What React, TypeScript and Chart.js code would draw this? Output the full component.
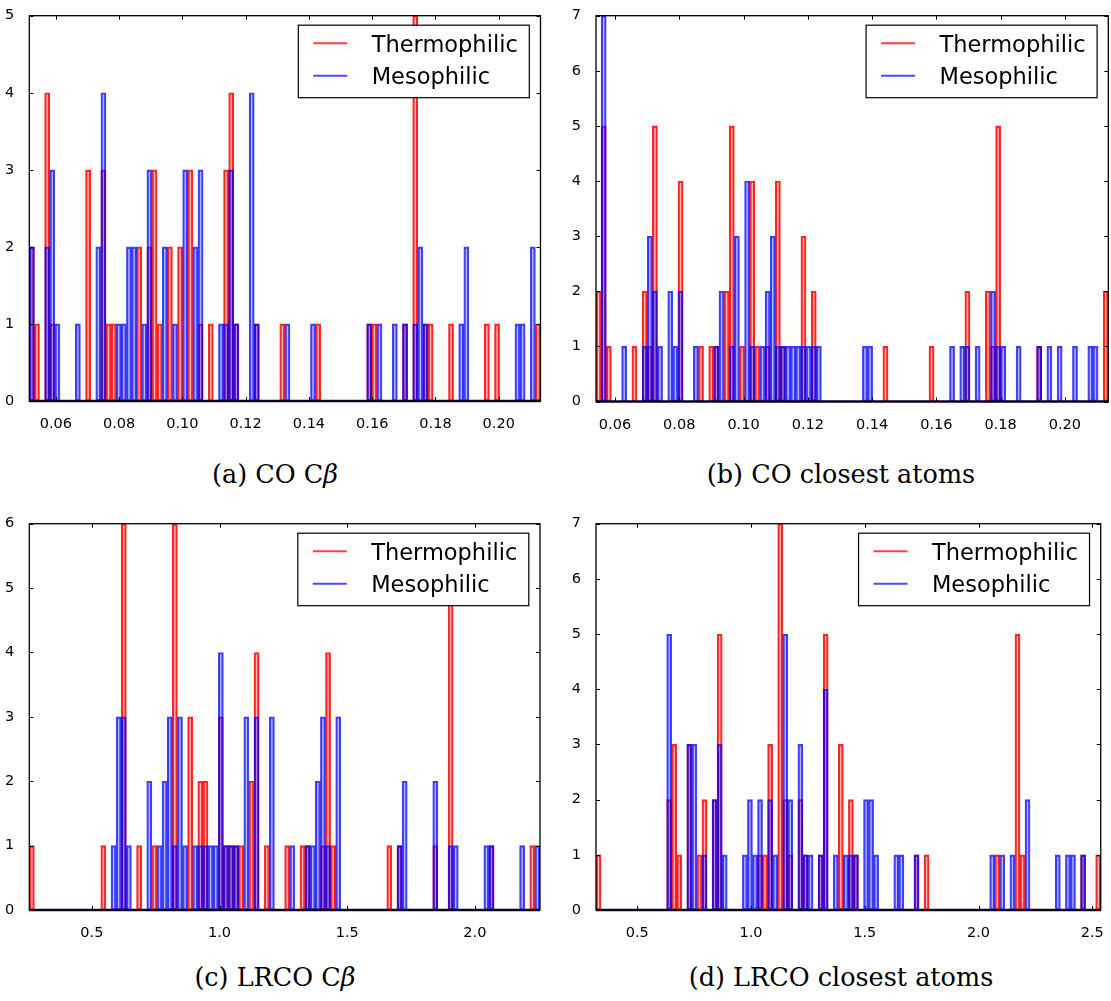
import React, { useEffect, useRef } from 'react';
import { Chart, registerables } from 'chart.js';

Chart.register(...registerables);

const seriesLabels = ['Thermophilic', 'Mesophilic'];

// (a) CO Cβ — 100 bins over the x range
const aRange = [0.0516, 0.2132];
const aXTicks = [0.06, 0.08, 0.1, 0.12, 0.14, 0.16, 0.18, 0.2];
const aThermo = [
  2, 1, 0, 4, 1, 0, 0, 0, 0, 0,
  0, 3, 0, 0, 3, 1, 1, 0, 0, 0,
  0, 2, 0, 2, 3, 1, 0, 2, 0, 2,
  0, 3, 0, 1, 0, 1, 0, 0, 3, 4,
  1, 0, 0, 0, 1, 0, 0, 0, 0, 1,
  0, 0, 0, 0, 0, 0, 1, 0, 0, 0,
  0, 0, 0, 0, 0, 0, 1, 1, 0, 0,
  0, 0, 0, 1, 0, 5, 0, 1, 1, 0,
  0, 0, 1, 0, 0, 0, 0, 0, 0, 1,
  0, 1, 0, 0, 0, 0, 0, 0, 0, 1,
];
const aMeso = [
  2, 0, 0, 2, 3, 1, 0, 0, 0, 1,
  0, 0, 0, 2, 4, 0, 0, 1, 1, 2,
  2, 0, 1, 3, 0, 0, 2, 0, 1, 0,
  3, 0, 2, 3, 0, 0, 0, 1, 1, 3,
  1, 0, 0, 4, 1, 0, 0, 0, 0, 0,
  1, 0, 0, 0, 0, 1, 0, 0, 0, 0,
  0, 0, 0, 0, 0, 0, 1, 0, 1, 0,
  0, 1, 0, 1, 0, 1, 2, 1, 0, 0,
  0, 0, 0, 0, 1, 2, 0, 0, 0, 0,
  0, 0, 0, 0, 0, 1, 1, 0, 2, 0,
];

// (b) CO closest atoms
const bRange = [0.0541, 0.2135];
const bXTicks = [0.06, 0.08, 0.1, 0.12, 0.14, 0.16, 0.18, 0.2];
const bThermo = [
  2, 5, 1, 0, 0, 0, 0, 1, 0, 2,
  1, 5, 0, 0, 0, 0, 4, 0, 0, 0,
  1, 0, 1, 1, 0, 2, 5, 0, 1, 0,
  4, 1, 0, 1, 0, 4, 1, 0, 0, 0,
  3, 0, 2, 0, 0, 0, 0, 0, 0, 0,
  0, 0, 0, 0, 0, 0, 1, 0, 0, 0,
  0, 0, 0, 0, 0, 1, 0, 0, 0, 0,
  0, 0, 2, 0, 0, 0, 2, 1, 5, 0,
  0, 0, 0, 0, 0, 0, 1, 0, 0, 0,
  0, 0, 0, 0, 0, 0, 0, 0, 0, 2,
];
const bMeso = [
  0, 7, 0, 0, 0, 1, 0, 0, 0, 1,
  3, 2, 1, 0, 2, 1, 2, 0, 0, 1,
  0, 0, 0, 1, 2, 0, 1, 3, 0, 4,
  1, 0, 1, 2, 3, 1, 1, 1, 1, 1,
  1, 1, 1, 1, 0, 0, 0, 0, 0, 0,
  0, 0, 1, 1, 0, 0, 0, 0, 0, 0,
  0, 0, 0, 0, 0, 0, 0, 0, 0, 1,
  0, 1, 1, 0, 1, 0, 0, 2, 1, 1,
  0, 0, 1, 0, 0, 0, 1, 0, 1, 0,
  1, 0, 0, 1, 0, 0, 1, 1, 0, 0,
];

// (c) LRCO Cβ
const cRange = [0.255, 2.255];
const cXTicks = [0.5, 1.0, 1.5, 2.0];
const cThermo = [
  1, 0, 0, 0, 0, 0, 0, 0, 0, 0,
  0, 0, 0, 0, 1, 0, 0, 0, 6, 0,
  0, 1, 0, 0, 1, 0, 0, 0, 6, 0,
  0, 3, 0, 2, 2, 0, 0, 3, 1, 1,
  1, 1, 0, 2, 4, 0, 1, 0, 0, 0,
  1, 0, 0, 1, 1, 0, 0, 1, 4, 1,
  0, 0, 0, 0, 0, 0, 0, 0, 0, 0,
  1, 0, 1, 0, 0, 0, 0, 0, 0, 1,
  0, 0, 5, 0, 0, 0, 0, 0, 0, 0,
  1, 0, 0, 0, 0, 0, 0, 0, 1, 0,
];
const cMeso = [
  0, 0, 0, 0, 0, 0, 0, 0, 0, 0,
  0, 0, 0, 0, 0, 0, 1, 3, 3, 1,
  0, 0, 0, 2, 0, 1, 2, 3, 1, 3,
  1, 0, 1, 1, 1, 1, 1, 4, 1, 1,
  1, 0, 3, 0, 3, 0, 0, 3, 0, 0,
  0, 1, 0, 0, 1, 1, 2, 3, 1, 0,
  3, 0, 0, 0, 0, 0, 0, 0, 0, 0,
  0, 0, 1, 2, 0, 0, 0, 0, 0, 2,
  0, 0, 1, 1, 0, 0, 0, 0, 0, 1,
  1, 0, 0, 0, 0, 0, 1, 0, 0, 1,
];

// (d) LRCO closest atoms
const dRange = [0.319, 2.537];
const dXTicks = [0.5, 1.0, 1.5, 2.0, 2.5];
const dThermo = [
  1, 0, 0, 0, 0, 0, 0, 0, 0, 0,
  0, 0, 0, 0, 2, 3, 1, 0, 3, 0,
  1, 2, 0, 2, 5, 0, 0, 0, 0, 0,
  0, 0, 1, 1, 3, 0, 7, 2, 1, 0,
  2, 1, 0, 0, 1, 5, 0, 0, 3, 0,
  2, 1, 0, 0, 0, 0, 0, 0, 0, 0,
  0, 0, 0, 1, 0, 1, 0, 0, 0, 0,
  0, 0, 0, 0, 0, 0, 0, 0, 0, 1,
  0, 0, 0, 5, 1, 0, 0, 0, 0, 0,
  0, 0, 0, 0, 0, 0, 1, 0, 0, 1,
];
const dMeso = [
  0, 0, 0, 0, 0, 0, 0, 0, 0, 0,
  0, 0, 0, 0, 5, 0, 0, 0, 3, 3,
  0, 1, 0, 2, 3, 1, 0, 0, 0, 1,
  2, 1, 2, 0, 2, 1, 0, 5, 2, 0,
  3, 1, 1, 0, 1, 4, 0, 1, 0, 1,
  1, 1, 0, 2, 2, 1, 0, 0, 0, 1,
  1, 0, 0, 1, 0, 0, 0, 0, 0, 0,
  0, 0, 0, 0, 0, 0, 0, 0, 1, 0,
  1, 0, 1, 0, 0, 2, 0, 0, 0, 0,
  0, 1, 0, 1, 1, 0, 1, 0, 0, 0,
];

const yMaxes = [5, 7, 6, 7];
const xDecimals = [2, 2, 1, 1];

const RED_EDGE = 'rgba(255,0,0,0.85)';
const RED_FILL = 'rgba(255,0,0,0.28)';
const BLUE_EDGE = 'rgba(0,0,255,0.75)';
const BLUE_FILL = 'rgba(0,0,255,0.28)';
const LEG_COLORS = ['rgba(255,0,0,0.75)', 'rgba(0,0,255,0.7)'];

const TICK_FONT = { family: '"DejaVu Sans"', size: 14.5 };

const decorPlugin = {
  id: 'decor',
  afterDatasetsDraw(chart: any) {
    const { ctx, chartArea: a } = chart;
    const xs = chart.scales.x;
    const ys = chart.scales.y;
    ctx.save();
    // zero baseline (outlines of empty bins)
    const y0 = ys.getPixelForValue(0);
    ctx.strokeStyle = '#1d0d3a';
    ctx.lineWidth = 2.4;
    ctx.beginPath();
    ctx.moveTo(a.left, y0);
    ctx.lineTo(a.right, y0);
    ctx.stroke();
    // frame
    ctx.strokeStyle = '#000';
    ctx.lineWidth = 1.3;
    ctx.strokeRect(a.left, a.top, a.right - a.left, a.bottom - a.top);
    // inward ticks on all sides
    const L = 4;
    ctx.lineWidth = 1;
    ctx.beginPath();
    xs.ticks.forEach((t: any) => {
      const px = Math.round(xs.getPixelForValue(t.value)) + 0.5;
      ctx.moveTo(px, a.bottom);
      ctx.lineTo(px, a.bottom - L);
      ctx.moveTo(px, a.top);
      ctx.lineTo(px, a.top + L);
    });
    ys.ticks.forEach((t: any) => {
      const py = Math.round(ys.getPixelForValue(t.value)) + 0.5;
      ctx.moveTo(a.left, py);
      ctx.lineTo(a.left + L, py);
      ctx.moveTo(a.right, py);
      ctx.lineTo(a.right - L, py);
    });
    ctx.stroke();
    // legend box
    const bw = 231;
    const bh = 72.5;
    const bx = a.right - 11.2 - bw;
    const by = a.top + 9.5;
    ctx.fillStyle = '#fff';
    ctx.fillRect(bx, by, bw, bh);
    ctx.strokeStyle = '#000';
    ctx.lineWidth = 1.2;
    ctx.strokeRect(bx, by, bw, bh);
    ctx.font = '22.5px "DejaVu Sans"';
    ctx.textBaseline = 'alphabetic';
    ctx.textAlign = 'left';
    chart.data.datasets.forEach((ds: any, i: number) => {
      const ly = by + 18 + i * 32.5;
      ctx.strokeStyle = LEG_COLORS[i];
      ctx.lineWidth = 2;
      ctx.beginPath();
      ctx.moveTo(bx + 15, ly);
      ctx.lineTo(bx + 49, ly);
      ctx.stroke();
      ctx.fillStyle = '#000';
      ctx.fillText(ds.label, bx + 73.4, ly + 8.3);
    });
    ctx.restore();
  },
};

type PanelCfg = {
  range: number[];
  xTicks: number[];
  thermo: number[];
  meso: number[];
  yMax: number;
  decimals: number;
  left: number;
  top: number;
  width: number;
  height: number;
  axisLeft: number;
  padTop: number;
  padRight: number;
  padBottom: number;
};

function Panel({ cfg }: { cfg: PanelCfg }) {
  const ref = useRef<HTMLCanvasElement>(null);
  useEffect(() => {
    if (!ref.current) return;
    const [lo, hi] = cfg.range;
    const n = cfg.thermo.length;
    const w = (hi - lo) / n;
    const toPts = (arr: number[]) => arr.map((y, i) => ({ x: lo + (i + 0.5) * w, y }));
    const common = {
      borderWidth: 1.5,
      borderSkipped: false,
      grouped: false,
      barPercentage: 1,
      categoryPercentage: 1,
    };
    const chart = new Chart(ref.current, {
      type: 'bar',
      data: {
        datasets: [
          {
            label: seriesLabels[0],
            data: toPts(cfg.thermo),
            backgroundColor: RED_FILL,
            borderColor: RED_EDGE,
            order: 2,
            ...common,
          } as any,
          {
            label: seriesLabels[1],
            data: toPts(cfg.meso),
            backgroundColor: BLUE_FILL,
            borderColor: BLUE_EDGE,
            order: 1,
            ...common,
          } as any,
        ],
      },
      options: {
        animation: false,
        responsive: false,
        maintainAspectRatio: false,
        layout: { padding: { left: 0, top: cfg.padTop, right: cfg.padRight, bottom: cfg.padBottom } },
        plugins: { legend: { display: false }, tooltip: { enabled: false } },
        scales: {
          x: {
            type: 'linear',
            min: lo,
            max: hi,
            offset: false,
            grid: { display: false },
            border: { display: false },
            afterBuildTicks: (s: any) => {
              s.ticks = cfg.xTicks.map((v) => ({ value: v }));
            },
            ticks: {
              autoSkip: false,
              maxRotation: 0,
              padding: 7,
              color: '#000',
              font: TICK_FONT,
              callback: (v: any) => Number(v).toFixed(cfg.decimals),
            },
            afterFit: (s: any) => {
              s.height = 30;
            },
          },
          y: {
            type: 'linear',
            min: 0,
            max: cfg.yMax,
            grid: { display: false },
            border: { display: false },
            ticks: { stepSize: 1, padding: 7, color: '#000', font: TICK_FONT },
            afterFit: (s: any) => {
              s.width = cfg.axisLeft;
            },
          },
        },
      } as any,
      plugins: [decorPlugin],
    });
    return () => chart.destroy();
  }, [cfg]);
  return (
    <canvas
      ref={ref}
      width={cfg.width}
      height={cfg.height}
      style={{ position: 'absolute', left: cfg.left, top: cfg.top, width: cfg.width, height: cfg.height }}
    />
  );
}

const panels: PanelCfg[] = [
  { range: aRange, xTicks: aXTicks, thermo: aThermo, meso: aMeso, yMax: yMaxes[0], decimals: xDecimals[0],
    left: 0, top: 0, width: 560, height: 445, axisLeft: 29.3, padTop: 14, padRight: 19.5, padBottom: 14 },
  { range: bRange, xTicks: bXTicks, thermo: bThermo, meso: bMeso, yMax: yMaxes[1], decimals: xDecimals[1],
    left: 560, top: 0, width: 551, height: 445, axisLeft: 36, padTop: 14, padRight: 2.7, padBottom: 13.5 },
  { range: cRange, xTicks: cXTicks, thermo: cThermo, meso: cMeso, yMax: yMaxes[2], decimals: xDecimals[2],
    left: 0, top: 508, width: 560, height: 445, axisLeft: 29.3, padTop: 13.7, padRight: 20, padBottom: 13 },
  { range: dRange, xTicks: dXTicks, thermo: dThermo, meso: dMeso, yMax: yMaxes[3], decimals: xDecimals[3],
    left: 560, top: 508, width: 551, height: 445, axisLeft: 36, padTop: 13.7, padRight: 9.3, padBottom: 13 },
];

const captionStyle = (cx: number, top: number): React.CSSProperties => ({
  position: 'absolute',
  left: cx - 250,
  top,
  width: 500,
  textAlign: 'center',
  fontFamily: '"DejaVu Serif"',
  fontSize: 25.5,
  lineHeight: '30px',
  color: '#000',
  whiteSpace: 'nowrap',
});

export default function App() {
  return (
    <div style={{ position: 'absolute', left: 0, top: 0, width: 1111, height: 1001, background: '#fff', overflow: 'hidden' }}>
      {panels.map((p, i) => (
        <Panel key={i} cfg={p} />
      ))}
      <div style={captionStyle(275, 459)}>(a) CO C<i>β</i></div>
      <div style={captionStyle(841, 459)}>(b) CO closest atoms</div>
      <div style={captionStyle(275, 962)}>(c) LRCO C<i>β</i></div>
      <div style={captionStyle(841, 962)}>(d) LRCO closest atoms</div>
    </div>
  );
}
